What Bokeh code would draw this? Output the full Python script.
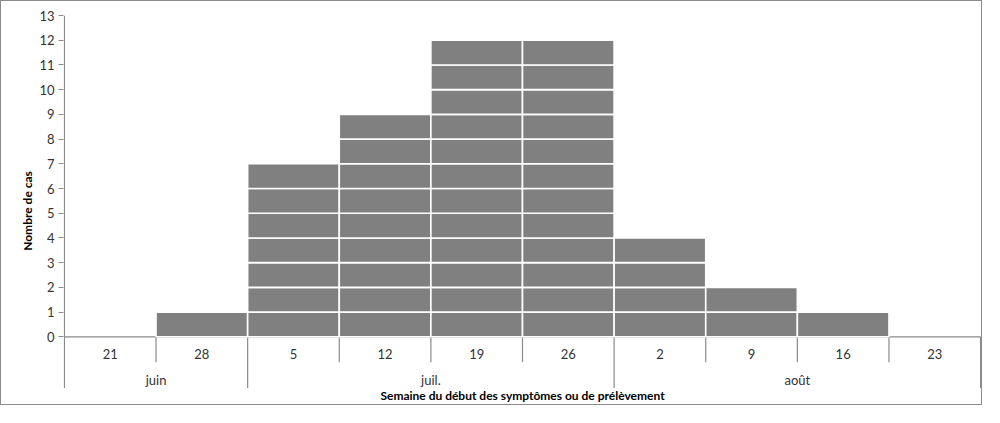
from bokeh.plotting import figure
from bokeh.models import Range1d, FixedTicker, Label
from bokeh.core.properties import value
from bokeh.embed import file_html
from bokeh.resources import INLINE

weeks = ["21", "28", "5", "12", "19", "26", "2", "9", "16", "23"]
cases = [0, 1, 7, 9, 12, 12, 4, 2, 1, 0]
months = ["juin", "juil.", "août"]
month_weeks = [2, 4, 4]
y_ticks = list(range(0, 14))
x_title = "Semaine du début des symptômes ou de prélèvement"
y_title = "Nombre de cas"

FONT = "Lato"
TXT = "#333333"
AX = "#8a8a8a"

p = figure(width=982, height=405, output_backend="svg", toolbar_location=None,
           x_range=Range1d(-0.01, 10.01), y_range=Range1d(-2.82, 13),
           x_axis_location=None, min_border_left=62, min_border_right=2,
           min_border_top=14, min_border_bottom=0)
p.styles = {"border": "1px solid #8c8c8c"}
p.background_fill_color = "white"
p.border_fill_color = "white"
p.outline_line_color = None
p.xgrid.visible = False
p.ygrid.visible = False

ya = p.yaxis[0]
ya.ticker = FixedTicker(ticks=y_ticks)
ya.axis_line_color = None
ya.major_tick_line_color = AX
ya.major_tick_out = 5
ya.major_tick_in = 0
ya.minor_tick_line_color = None
ya.major_label_text_font = FONT
ya.major_label_text_font_size = "13px"
ya.major_label_text_color = TXT
ya.major_label_standoff = 4
ya.axis_label = y_title
ya.axis_label_text_font = FONT
ya.axis_label_text_font_style = "bold"
ya.axis_label_text_font_size = "12px"
ya.axis_label_text_color = "black"
ya.axis_label_standoff = 1

# axis lines and separators
n = len(weeks)
bounds = [0]
for m in month_weeks:
    bounds.append(bounds[-1] + m)
sx0, sy0, sx1, sy1 = [], [], [], []
for i in range(n + 1):
    long_line = i in bounds
    sx0.append(i); sx1.append(i)
    sy0.append(0); sy1.append(-2.07 if long_line else -1.03)
# y axis line
sx0.append(0); sx1.append(0); sy0.append(0); sy1.append(13)
# x axis line
sx0.append(0); sx1.append(n); sy0.append(0); sy1.append(0)
p.segment(x0=sx0, y0=sy0, x1=sx1, y1=sy1, line_color=AX, line_width=1.2)

# stacked unit boxes
left, right, bottom, top = [], [], [], []
for i, c in enumerate(cases):
    for k in range(c):
        left.append(i); right.append(i + 1)
        bottom.append(k); top.append(k + 1)
p.quad(left=left, right=right, bottom=bottom, top=top,
       fill_color="#808080", line_color="white", line_width=1.6)

# week labels
p.text(x=[i + 0.5 for i in range(n)], y=[-0.69] * n, text=weeks,
       text_align="center", text_baseline="middle",
       text_font=value(FONT), text_font_size="13px", text_color=TXT)

# month labels
centers = [(bounds[j] + bounds[j + 1]) / 2 for j in range(len(months))]
p.text(x=centers, y=[-1.73] * len(months), text=months,
       text_align="center", text_baseline="middle",
       text_font=value(FONT), text_font_size="13px", text_color=TXT)

# x title
p.add_layout(Label(x=n / 2, y=-2.38, text=x_title, text_align="center",
                   text_baseline="middle", text_font=FONT, text_font_size="12px",
                   text_font_style="bold", text_color="black"))

open("out.html", "w").write(file_html(p, INLINE))
